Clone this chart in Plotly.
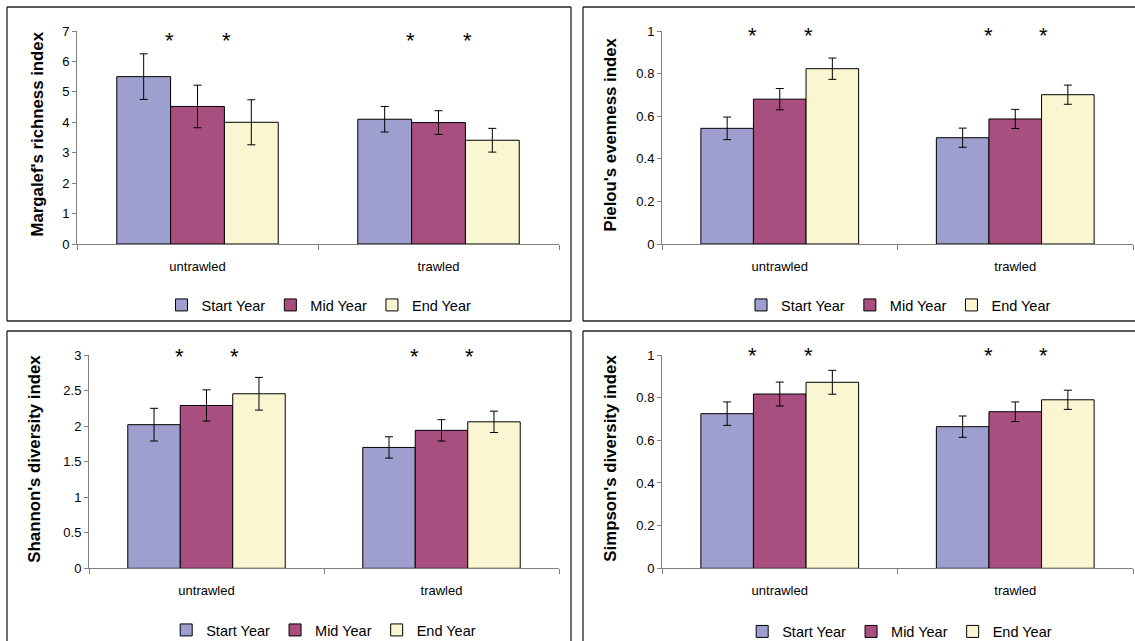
import plotly.graph_objects as go

W, H = 1135, 641

categories = ["untrawled", "trawled"]
series_names = ["Start Year", "Mid Year", "End Year"]
colors = ["#9E9FCE", "#A84F7F", "#FAF6D2"]

margalef_start = [5.50, 4.10]
margalef_mid = [4.52, 3.99]
margalef_end = [4.00, 3.41]
margalef_start_err = [0.75, 0.42]
margalef_mid_err = [0.70, 0.39]
margalef_end_err = [0.74, 0.39]

pielou_start = [0.543, 0.499]
pielou_mid = [0.680, 0.587]
pielou_end = [0.823, 0.701]
pielou_start_err = [0.053, 0.045]
pielou_mid_err = [0.050, 0.045]
pielou_end_err = [0.050, 0.045]

shannon_start = [2.02, 1.70]
shannon_mid = [2.29, 1.94]
shannon_end = [2.455, 2.06]
shannon_start_err = [0.23, 0.15]
shannon_mid_err = [0.22, 0.15]
shannon_end_err = [0.23, 0.15]

simpson_start = [0.725, 0.664]
simpson_mid = [0.817, 0.734]
simpson_end = [0.872, 0.790]
simpson_start_err = [0.055, 0.050]
simpson_mid_err = [0.056, 0.046]
simpson_end_err = [0.056, 0.045]

y_titles = ["Margalef's richness index", "Pielou's evenness index",
            "Shannon's diversity index", "Simpson's diversity index"]
y_ranges = [[0, 7], [0, 1], [0, 3], [0, 1]]
y_dticks = [1, 0.2, 0.5, 0.2]
star_levels = [6.70, 0.981, 2.985, 1.0]

panels = [
    ([margalef_start, margalef_mid, margalef_end],
     [margalef_start_err, margalef_mid_err, margalef_end_err]),
    ([pielou_start, pielou_mid, pielou_end],
     [pielou_start_err, pielou_mid_err, pielou_end_err]),
    ([shannon_start, shannon_mid, shannon_end],
     [shannon_start_err, shannon_mid_err, shannon_end_err]),
    ([simpson_start, simpson_mid, simpson_end],
     [simpson_start_err, simpson_mid_err, simpson_end_err]),
]


def px(x):
    return x / W


def py(y):
    return 1 - y / H


# plot-area boxes in pixels (x0, x1, ytop, ybottom)
areas = [(77, 559, 31, 244), (662, 1133, 31, 244),
         (89, 559, 355, 568.3), (662, 1133, 355, 568.3)]
title_x = [37, 610, 35, 611]
legend_pos = [(319, 305), (898.5, 305), (323.7, 630), (899.7, 631.5)]
# panel frame edges, all kept inside the page
frame_lines = [
    [(7, 7, 571, 7), (7, 7, 7, 321), (571, 7, 571, 321), (7, 321, 571, 321)],
    [(583, 7, 1135, 7), (583, 7, 583, 321), (583, 321, 1135, 321)],
    [(7, 331, 571, 331), (7, 331, 7, 641), (571, 331, 571, 641)],
    [(583, 331, 1135, 331), (583, 331, 583, 641)],
]

FONT = "Arial, Liberation Sans, sans-serif"
fig = go.Figure()
layout = dict(width=W, height=H,
              margin=dict(l=0, r=0, t=0, b=0, autoexpand=False),
              paper_bgcolor="white", plot_bgcolor="white",
              barmode="group", bargap=0.33, bargroupgap=0,
              font=dict(family=FONT, size=13, color="black"),
              annotations=[], shapes=[])

for p, (vals, errs) in enumerate(panels):
    ax = "" if p == 0 else str(p + 1)
    leg = "legend" if p == 0 else "legend%d" % (p + 1)
    for s in range(3):
        fig.add_trace(go.Bar(
            x=categories, y=vals[s], name=series_names[s],
            marker=dict(color=colors[s], line=dict(color="black", width=1)),
            error_y=dict(type="data", array=errs[s], visible=True,
                         color="black", thickness=1, width=4),
            xaxis="x" + ax, yaxis="y" + ax, legend=leg,
            showlegend=True, hoverinfo="y"))
    x0, x1, yt, yb = areas[p]
    layout["xaxis" + ax] = dict(
        domain=[px(x0), px(x1)], anchor="y" + ax,
        showline=True, linecolor="#808080", linewidth=1,
        ticks="outside", tickson="boundaries", ticklen=5, tickcolor="#808080",
        showgrid=False, zeroline=False, ticklabelstandoff=10,
        tickfont=dict(size=13, family=FONT, color="black"))
    layout["yaxis" + ax] = dict(
        domain=[py(yb), py(yt)], anchor="x" + ax,
        range=y_ranges[p], dtick=y_dticks[p], tick0=0,
        showline=True, linecolor="#808080", linewidth=1,
        ticks="outside", ticklen=4, tickcolor="#808080",
        showgrid=False, zeroline=False,
        tickfont=dict(size=13, family=FONT, color="black"))
    lx, ly = legend_pos[p]
    layout[leg] = dict(orientation="h", x=px(lx), y=py(ly),
                       xanchor="center", yanchor="middle",
                       font=dict(size=14.5, family=FONT, color="black"),
                       bgcolor="rgba(0,0,0,0)", itemwidth=30,
                       traceorder="normal")
    layout["annotations"].append(dict(
        text="<b>%s</b>" % y_titles[p], textangle=-90,
        x=px(title_x[p]), y=py((yt + yb) / 2 - 3), xref="paper", yref="paper",
        xanchor="center", yanchor="middle", showarrow=False,
        font=dict(size=16.8, family=FONT, color="black")))
    for ci in range(len(categories)):
        for off in (-0.115, 0.12):
            layout["annotations"].append(dict(
                text="*", x=ci + off, y=star_levels[p],
                xref="x" + ax, yref="y" + ax, showarrow=False,
                xanchor="center", yanchor="middle",
                font=dict(size=22, family=FONT, color="black")))
    for (ax0, ay0, ax1, ay1) in frame_lines[p]:
        layout["shapes"].append(dict(
            type="line", xref="paper", yref="paper",
            x0=px(ax0), x1=px(ax1), y0=py(ay0), y1=py(ay1),
            line=dict(color="#222222", width=1.3), layer="below"))

fig.update_layout(**layout)
fig.write_html(
    "out.html",
    config={"displayModeBar": False, "responsive": False},
    post_script=(
        "var h=document.documentElement,b=document.body;"
        "h.style.margin='0';h.style.padding='0';h.style.overflow='hidden';"
        "b.style.margin='0';b.style.padding='0';b.style.overflow='hidden';"
    ))
